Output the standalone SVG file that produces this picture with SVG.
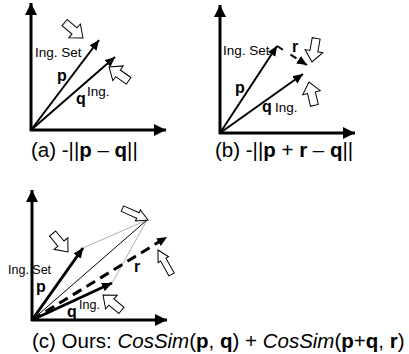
<svg xmlns="http://www.w3.org/2000/svg" xmlns:xlink="http://www.w3.org/1999/xlink" width="409" height="354" viewBox="0 0 409 354">
<style>
text{font-family:"Liberation Sans",Arial,sans-serif;fill:#000}
.lbl{font-size:13.5px}
.lbs{font-size:12.5px}
.b{font-weight:bold;font-size:16px}
.cap{font-size:20.5px}
.axis{stroke:#000;stroke-width:3;fill:none;marker-end:url(#ha)}
.vec{stroke:#000;stroke-width:2;fill:none;marker-end:url(#hv)}
.vecT{stroke:#000;stroke-width:3;fill:none;marker-end:url(#hv)}
.thin{stroke:#000;stroke-width:1;fill:none}
.gray{stroke:#b0b0b0;stroke-width:1;fill:none}
.dash{stroke:#000;stroke-width:2;fill:none;stroke-dasharray:7 9;marker-end:url(#hv)}
.dashT{stroke:#000;stroke-width:3;fill:none;stroke-dasharray:10 6;marker-end:url(#hv)}
.blk{fill:#fff;stroke:#000;stroke-width:1}
</style>
<defs>
<marker id="ha" markerUnits="userSpaceOnUse" markerWidth="14" markerHeight="14" refX="12" refY="6" orient="auto"><path d="M0,0 L12,6 L0,12 Z" fill="#000"/></marker>
<marker id="hv" markerUnits="userSpaceOnUse" markerWidth="12" markerHeight="12" refX="10" refY="4.5" orient="auto"><path d="M0,0 L10,4.5 L0,9 Z" fill="#000"/></marker>
<path id="blk" d="M0,-4 L13,-4 L13,-9 L24,0 L13,9 L13,4 L0,4 Z"/>
<path id="blkN" d="M0,-3 L17,-3 L17,-6 L28,0 L17,6 L17,3 L0,3 Z"/>
</defs>

<g id="connectors">
<!-- panel a -->
<line class="axis" x1="31" y1="131" x2="31" y2="3"/>
<line class="axis" x1="30" y1="130" x2="166" y2="130"/>
<line class="vec" x1="31" y1="130" x2="99" y2="40"/>
<line class="vec" x1="31" y1="130" x2="115" y2="57"/>
<!-- panel b -->
<line class="axis" x1="220" y1="134" x2="220" y2="5"/>
<line class="axis" x1="219" y1="133" x2="355" y2="133"/>
<line class="vec" x1="220" y1="133" x2="277" y2="46"/>
<line class="vec" x1="220" y1="133" x2="303" y2="74"/>
<line class="dash" x1="277" y1="46" x2="307" y2="65"/>
<!-- panel c -->
<line class="axis" x1="32" y1="321" x2="32" y2="190"/>
<line class="axis" x1="31" y1="320" x2="167" y2="320"/>
<line class="gray" x1="83" y1="248" x2="147" y2="220"/>
<line class="gray" x1="112" y1="283" x2="147" y2="220"/>
<line class="thin" x1="32" y1="320" x2="147" y2="220"/>
<line class="dashT" x1="32" y1="320" x2="167" y2="237"/>
<line class="vecT" x1="32" y1="320" x2="83" y2="248"/>
<line class="vecT" x1="32" y1="320" x2="112" y2="283"/>
</g>

<g id="hollow-arrows">
<use xlink:href="#blk" href="#blk" class="blk" transform="translate(83,38) rotate(40) translate(-24,0)"/>
<use xlink:href="#blk" href="#blk" class="blk" transform="translate(109,67) rotate(215) translate(-24,0)"/>
<use xlink:href="#blk" href="#blk" class="blk" transform="translate(312,62) rotate(100) translate(-24,0)"/>
<use xlink:href="#blk" href="#blk" class="blk" transform="translate(309,82) rotate(257) translate(-24,0)"/>
<use xlink:href="#blk" href="#blk" class="blk" transform="translate(68,252) rotate(50) translate(-24,0)"/>
<use xlink:href="#blkN" href="#blkN" class="blk" transform="translate(148,220) rotate(24) translate(-28,0)"/>
<use xlink:href="#blkN" href="#blkN" class="blk" transform="translate(158,250) rotate(241) translate(-28,0)"/>
<use xlink:href="#blk" href="#blk" class="blk" transform="translate(103,295) rotate(220) translate(-24,0)"/>
</g>

<g id="panel-a-labels">
<text class="lbl" x="35" y="57">Ing. Set</text>
<text class="b" x="57" y="81">p</text>
<text class="b" x="76" y="104">q</text>
<text class="lbl" x="87" y="96">Ing.</text>
<text class="cap" x="31" y="157">(a) -||<tspan font-weight="bold">p</tspan> – <tspan font-weight="bold">q</tspan>||</text>
</g>

<g id="panel-b-labels">
<text class="lbl" x="223" y="55">Ing. Set</text>
<text class="b" x="292" y="52">r</text>
<text class="b" x="235" y="93">p</text>
<text class="b" x="262" y="112">q</text>
<text class="lbl" x="275" y="112">Ing.</text>
<text class="cap" x="215" y="157">(b) -||<tspan font-weight="bold">p</tspan> + <tspan font-weight="bold">r</tspan> – <tspan font-weight="bold">q</tspan>||</text>
</g>

<g id="panel-c-labels">
<text class="lbs" x="8" y="274">Ing. Set</text>
<text class="b" x="36" y="292">p</text>
<text class="b" x="67" y="317">q</text>
<text class="lbs" x="79" y="309">Ing.</text>
<text class="b" x="134" y="272">r</text>
<text class="cap" x="32" y="348">(c) Ours: <tspan font-style="italic">CosSim</tspan>(<tspan font-weight="bold">p</tspan>, <tspan font-weight="bold">q</tspan>) + <tspan font-style="italic">CosSim</tspan>(<tspan font-weight="bold">p</tspan>+<tspan font-weight="bold">q</tspan>, <tspan font-weight="bold">r</tspan>)</text>
</g>
</svg>
